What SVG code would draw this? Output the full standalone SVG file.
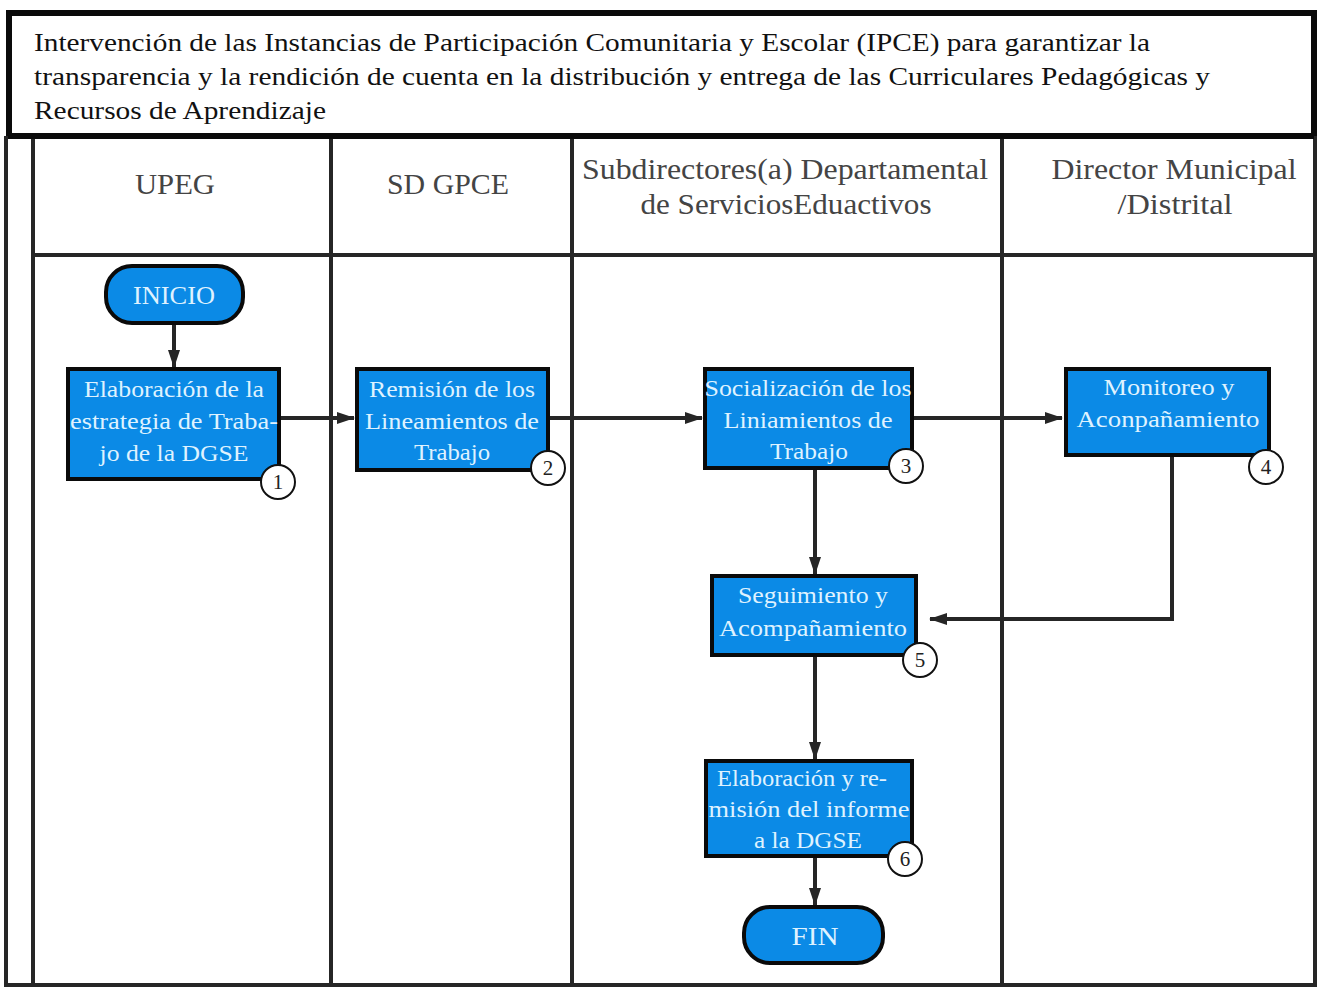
<svg xmlns="http://www.w3.org/2000/svg" width="1319" height="987" viewBox="0 0 1319 987">
<style>
.title{font-family:"Liberation Serif","DejaVu Serif",serif;font-size:25px;fill:#111}
.lane{font-family:"Liberation Serif","DejaVu Serif",serif;font-size:29px;fill:#444;text-anchor:middle}
.bt{font-family:"Liberation Serif","DejaVu Serif",serif;font-size:24px;fill:#dff2ff;text-anchor:middle}
.term{font-family:"Liberation Serif","DejaVu Serif",serif;font-size:26px;fill:#dff2ff;text-anchor:middle}
.num{font-family:"Liberation Serif","DejaVu Serif",serif;font-size:21px;fill:#222;text-anchor:middle}
.box{fill:#0b8ae6;stroke:#0a0a0a;stroke-width:4}
.circ{fill:#fff;stroke:#111;stroke-width:2}
.grid{stroke:#262626;stroke-width:4;fill:none}
.con{stroke:#262626;stroke-width:4;fill:none}
</style>
<defs>
<marker id="ah" markerWidth="18" markerHeight="14" refX="17" refY="7" orient="auto" markerUnits="userSpaceOnUse">
<path d="M0,1 L18,7 L0,13 Z" fill="#262626"/>
</marker>
</defs>
<rect width="1319" height="987" fill="#fff"/>
<g id="frame">
<rect x="9" y="13" width="1305" height="123" fill="#fff" stroke="#0a0a0a" stroke-width="6"/>
<line x1="6" y1="136" x2="6" y2="987" class="grid" stroke-width="3"/>
<line x1="33" y1="138" x2="33" y2="987" class="grid"/>
<line x1="331" y1="138" x2="331" y2="987" class="grid"/>
<line x1="572" y1="138" x2="572" y2="987" class="grid"/>
<line x1="1002" y1="138" x2="1002" y2="987" class="grid"/>
<line x1="1315" y1="136" x2="1315" y2="987" class="grid"/>
<line x1="33" y1="255" x2="1315" y2="255" class="grid"/>
<line x1="6" y1="985" x2="1315" y2="985" class="grid" stroke-width="3"/>
<rect x="9" y="134" width="1305" height="5" fill="#0a0a0a"/>
</g>
<g id="title">
<text class="title" x="34" y="51" textLength="1116" lengthAdjust="spacingAndGlyphs">Intervención de las Instancias de Participación Comunitaria y Escolar (IPCE) para garantizar la</text>
<text class="title" x="34" y="85" textLength="1176" lengthAdjust="spacingAndGlyphs">transparencia y la rendición de cuenta en la distribución y entrega de las Curriculares Pedagógicas y</text>
<text class="title" x="34" y="119" textLength="292" lengthAdjust="spacingAndGlyphs">Recursos de Aprendizaje</text>
</g>
<g id="lanes">
<text class="lane" x="175" y="194" textLength="80" lengthAdjust="spacingAndGlyphs">UPEG</text>
<text class="lane" x="448" y="194" textLength="122" lengthAdjust="spacingAndGlyphs">SD GPCE</text>
<text class="lane" x="785" y="179" textLength="406" lengthAdjust="spacingAndGlyphs">Subdirectores(a) Departamental</text>
<text class="lane" x="786" y="214" textLength="291" lengthAdjust="spacingAndGlyphs">de ServiciosEduactivos</text>
<text class="lane" x="1174" y="179" textLength="245" lengthAdjust="spacingAndGlyphs">Director Municipal</text>
<text class="lane" x="1175" y="214" textLength="115" lengthAdjust="spacingAndGlyphs">/Distrital</text>
</g>
<g id="connectors">
<line x1="174" y1="323" x2="174" y2="367" class="con" marker-end="url(#ah)"/>
<line x1="280" y1="418" x2="354" y2="418" class="con" marker-end="url(#ah)"/>
<line x1="549" y1="418" x2="702" y2="418" class="con" marker-end="url(#ah)"/>
<line x1="914" y1="418" x2="1062" y2="418" class="con" marker-end="url(#ah)"/>
<line x1="815" y1="469" x2="815" y2="574" class="con" marker-end="url(#ah)"/>
<polyline points="1172,455 1172,619 930,619" class="con" marker-end="url(#ah)"/>
<line x1="815" y1="656" x2="815" y2="759" class="con" marker-end="url(#ah)"/>
<line x1="815" y1="857" x2="815" y2="905" class="con" marker-end="url(#ah)"/>
</g>
<g id="inicio">
<rect x="106" y="266" width="137" height="57" rx="26" class="box"/>
<text class="term" x="174" y="304" textLength="82" lengthAdjust="spacingAndGlyphs">INICIO</text>
</g>
<g id="n1">
<rect x="68" y="369" width="211" height="110" class="box"/>
<text class="bt" x="174" y="397" textLength="180" lengthAdjust="spacingAndGlyphs">Elaboración de la</text>
<text class="bt" x="174" y="429" textLength="208" lengthAdjust="spacingAndGlyphs">estrategia de Traba-</text>
<text class="bt" x="174" y="461" textLength="149" lengthAdjust="spacingAndGlyphs">jo de la DGSE</text>
<circle cx="278" cy="482" r="17" class="circ"/>
<text class="num" x="278" y="489">1</text>
</g>
<g id="n2">
<rect x="357" y="369" width="191" height="101" class="box"/>
<text class="bt" x="452" y="397" textLength="166" lengthAdjust="spacingAndGlyphs">Remisión de los</text>
<text class="bt" x="452" y="429" textLength="174" lengthAdjust="spacingAndGlyphs">Lineamientos de</text>
<text class="bt" x="452" y="460" textLength="76" lengthAdjust="spacingAndGlyphs">Trabajo</text>
<circle cx="548" cy="468" r="17" class="circ"/>
<text class="num" x="548" y="475">2</text>
</g>
<g id="n3">
<rect x="705" y="369" width="207" height="99" class="box"/>
<text class="bt" x="808" y="396" textLength="207" lengthAdjust="spacingAndGlyphs">Socialización de los</text>
<text class="bt" x="808" y="428" textLength="169" lengthAdjust="spacingAndGlyphs">Liniamientos de</text>
<text class="bt" x="809" y="459" textLength="78" lengthAdjust="spacingAndGlyphs">Trabajo</text>
<circle cx="906" cy="466" r="17" class="circ"/>
<text class="num" x="906" y="473">3</text>
</g>
<g id="n4">
<rect x="1066" y="369" width="203" height="86" class="box"/>
<text class="bt" x="1169" y="395" textLength="131" lengthAdjust="spacingAndGlyphs">Monitoreo y</text>
<text class="bt" x="1168" y="427" textLength="183" lengthAdjust="spacingAndGlyphs">Aconpañamiento</text>
<circle cx="1266" cy="467" r="17" class="circ"/>
<text class="num" x="1266" y="474">4</text>
</g>
<g id="n5">
<rect x="712" y="576" width="204" height="79" class="box"/>
<text class="bt" x="813" y="603" textLength="150" lengthAdjust="spacingAndGlyphs">Seguimiento y</text>
<text class="bt" x="813" y="636" textLength="188" lengthAdjust="spacingAndGlyphs">Acompañamiento</text>
<circle cx="920" cy="660" r="17" class="circ"/>
<text class="num" x="920" y="667">5</text>
</g>
<g id="n6">
<rect x="706" y="761" width="206" height="95" class="box"/>
<text class="bt" x="802" y="786" textLength="170" lengthAdjust="spacingAndGlyphs">Elaboración y re-</text>
<text class="bt" x="809" y="817" textLength="201" lengthAdjust="spacingAndGlyphs">misión del informe</text>
<text class="bt" x="808" y="848" textLength="108" lengthAdjust="spacingAndGlyphs">a la DGSE</text>
<circle cx="905" cy="859" r="17" class="circ"/>
<text class="num" x="905" y="866">6</text>
</g>
<g id="fin">
<rect x="744" y="907" width="139" height="56" rx="26" class="box"/>
<text class="term" x="815" y="945" textLength="47" lengthAdjust="spacingAndGlyphs">FIN</text>
</g>
</svg>
